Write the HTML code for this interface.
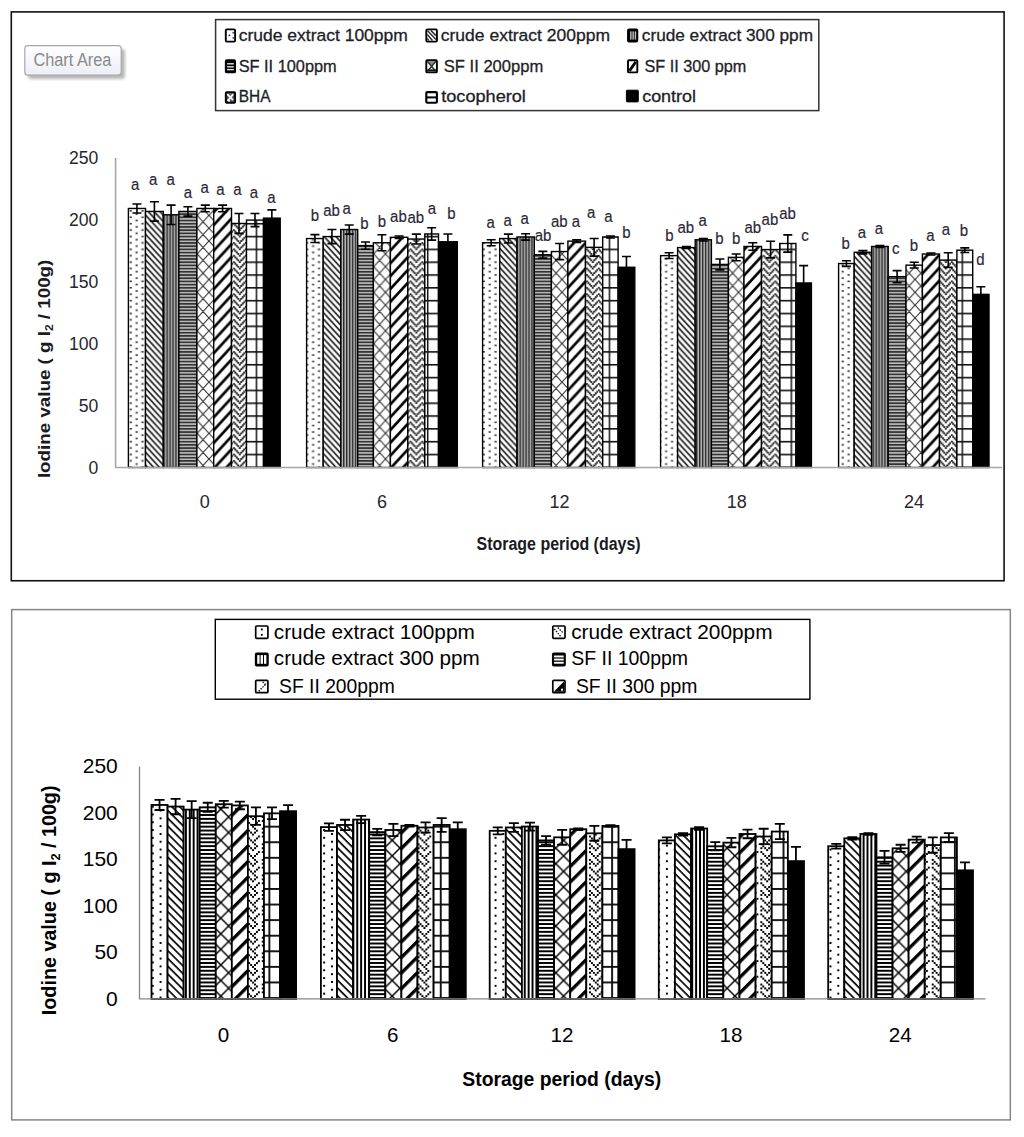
<!DOCTYPE html>
<html><head><meta charset="utf-8"><title>Iodine value chart</title>
<style>html,body{margin:0;padding:0;background:#fff;} body{width:1024px;height:1137px;position:relative;overflow:hidden;font-family:"Liberation Sans", sans-serif;}</style>
</head><body>
<svg width="1024" height="1137" viewBox="0 0 1024 1137" style="position:absolute;left:0;top:0">
<defs>
<pattern id="t1" patternUnits="userSpaceOnUse" width="8" height="8" patternTransform="translate(141.76,440.8) scale(1.471,1.6025)"><g fill="#3a3a3a"><rect x="-0.25" y="0.00" width="1.5" height="1"/><rect x="-0.25" y="4.00" width="1.5" height="1"/><rect x="3.75" y="2.00" width="1.5" height="1"/><rect x="3.75" y="6.00" width="1.5" height="1"/><rect x="7.75" y="0.00" width="1.5" height="1"/><rect x="7.75" y="4.00" width="1.5" height="1"/></g></pattern>
<pattern id="t2" patternUnits="userSpaceOnUse" width="8" height="8" patternTransform="translate(323.41,421.64) scale(1.471,1.6025)"><path d="M-9 -1L1 9M-5 -1L5 9M-1 -1L9 9M3 -1L13 9M7 -1L17 9" stroke="#222" stroke-width="1.15" fill="none" transform="translate(0.5,0.5)"/></pattern>
<pattern id="t3" patternUnits="userSpaceOnUse" width="2" height="8" patternTransform="translate(1.72,0) scale(1.471,1.6025)"><rect x="0" y="0" width="2" height="8" fill="#bcbcbc"/><rect x="0" y="0" width="1" height="8" fill="#2a2a2a"/></pattern>
<pattern id="t4" patternUnits="userSpaceOnUse" width="8" height="2" patternTransform="translate(0,1.77) scale(1.471,1.6025)"><rect x="0" y="0" width="8" height="2" fill="#bdbdbd"/><rect x="0" y="0" width="8" height="1.05" fill="#333"/></pattern>
<pattern id="t5" patternUnits="userSpaceOnUse" width="8" height="8" patternTransform="translate(373.7,407.7) scale(1.471,1.6025)"><path d="M-1 -1L9 9M9 -1L-1 9M-4 4L4 -4M4 12L12 4M-4 4L4 12M4 -4L12 4" stroke="#2e2e2e" stroke-width="0.72" fill="none"/></pattern>
<pattern id="t6" patternUnits="userSpaceOnUse" width="8" height="8" patternTransform="translate(393.11,427.02) scale(1.471,1.6025)"><path d="M-1 1L1 -1M-1 9L9 -1M7 9L9 7" stroke="#000" stroke-width="1.75" fill="none"/></pattern>
<pattern id="t7" patternUnits="userSpaceOnUse" width="8" height="4" patternTransform="translate(409.68,427.9) scale(1.471,1.6025)"><g fill="#2a2a2a"><rect x="-0.18" y="-0.15" width="1.36" height="1.3"/><rect x="3.82" y="-0.15" width="1.36" height="1.3"/><rect x="0.8200000000000001" y="0.85" width="1.36" height="1.3"/><rect x="6.82" y="0.85" width="1.36" height="1.3"/><rect x="1.82" y="1.85" width="1.36" height="1.3"/><rect x="5.82" y="1.85" width="1.36" height="1.3"/><rect x="2.82" y="2.85" width="1.36" height="1.3"/><rect x="4.82" y="2.85" width="1.36" height="1.3"/></g></pattern>
<pattern id="t8" patternUnits="userSpaceOnUse" width="8" height="8" patternTransform="translate(255.56,453.7) scale(1.471,1.6025)"><rect x="0" y="0" width="1" height="8" fill="#111"/><rect x="0" y="0" width="8" height="1" fill="#111"/></pattern>
<pattern id="t8g0" patternUnits="userSpaceOnUse" width="8" height="8" patternTransform="translate(255.66,453.7) scale(1.471,1.6025)"><rect x="0" y="0" width="1" height="8" fill="#111"/><rect x="0" y="0" width="8" height="1" fill="#111"/></pattern>
<pattern id="t8g1" patternUnits="userSpaceOnUse" width="8" height="8" patternTransform="translate(426.96,453.7) scale(1.471,1.6025)"><rect x="0" y="0" width="1" height="8" fill="#111"/><rect x="0" y="0" width="8" height="1" fill="#111"/></pattern>
<pattern id="t8g2" patternUnits="userSpaceOnUse" width="8" height="8" patternTransform="translate(608.66,453.7) scale(1.471,1.6025)"><rect x="0" y="0" width="1" height="8" fill="#111"/><rect x="0" y="0" width="8" height="1" fill="#111"/></pattern>
<pattern id="t8g3" patternUnits="userSpaceOnUse" width="8" height="8" patternTransform="translate(790.56,453.7) scale(1.471,1.6025)"><rect x="0" y="0" width="1" height="8" fill="#111"/><rect x="0" y="0" width="8" height="1" fill="#111"/></pattern>
<pattern id="t8g4" patternUnits="userSpaceOnUse" width="8" height="8" patternTransform="translate(961.56,453.7) scale(1.471,1.6025)"><rect x="0" y="0" width="1" height="8" fill="#111"/><rect x="0" y="0" width="8" height="1" fill="#111"/></pattern>
<pattern id="b1" patternUnits="userSpaceOnUse" width="15.580" height="15.580" patternTransform="translate(151.8,805.7)"><g fill="#000"><rect x="0.00" y="0.00" width="1.95" height="1.95"/><rect x="7.79" y="3.90" width="1.95" height="1.95"/><rect x="0.00" y="7.79" width="1.95" height="1.95"/><rect x="7.79" y="11.69" width="1.95" height="1.95"/></g></pattern>
<pattern id="b2" patternUnits="userSpaceOnUse" width="40" height="5.508" patternTransform="translate(170.95,952.62) rotate(45)"><rect x="0" y="0" width="40" height="1.65" fill="#000"/></pattern>
<pattern id="b3" patternUnits="userSpaceOnUse" width="3.895" height="20" patternTransform="translate(1.83,0) "><rect x="0" y="0" width="1.95" height="20" fill="#000"/></pattern>
<pattern id="b4" patternUnits="userSpaceOnUse" width="20" height="3.895" patternTransform="translate(0,-0.05) "><rect x="0" y="0" width="20" height="1.95" fill="#000"/></pattern>
<pattern id="b5" patternUnits="userSpaceOnUse" width="15.580" height="15.580" patternTransform="translate(220.8,902.6) "><path d="M-15.58 -15.58L31.16 31.16M31.16 -15.58L-15.58 31.16M-7.79 7.79L7.79 -7.79M7.79 23.37L23.37 7.79" stroke="#000" stroke-width="1.45" fill="none"/></pattern>
<pattern id="b6" patternUnits="userSpaceOnUse" width="40" height="11.017" patternTransform="translate(246.33,907.63) rotate(-45)"><rect x="0" y="0" width="40" height="3.3" fill="#000"/></pattern>
<pattern id="b7" patternUnits="userSpaceOnUse" width="15.580" height="15.580" patternTransform="translate(588.98,940.69)"><g fill="#000"><rect x="-0.00" y="-0.00" width="1.95" height="1.95"/><rect x="3.89" y="-0.00" width="1.95" height="1.95"/><rect x="7.79" y="-0.00" width="1.95" height="1.95"/><rect x="5.84" y="1.95" width="1.95" height="1.95"/><rect x="-0.00" y="3.89" width="1.95" height="1.95"/><rect x="11.68" y="3.89" width="1.95" height="1.95"/><rect x="1.95" y="5.84" width="1.95" height="1.95"/><rect x="9.74" y="5.84" width="1.95" height="1.95"/><rect x="3.89" y="7.79" width="1.95" height="1.95"/><rect x="7.79" y="7.79" width="1.95" height="1.95"/><rect x="5.84" y="9.74" width="1.95" height="1.95"/><rect x="-0.00" y="11.68" width="1.95" height="1.95"/><rect x="7.79" y="11.68" width="1.95" height="1.95"/><rect x="1.95" y="13.63" width="1.95" height="1.95"/><rect x="9.74" y="13.63" width="1.95" height="1.95"/></g></pattern>
<pattern id="b8" patternUnits="userSpaceOnUse" width="15.580" height="15.580" patternTransform="translate(3.55,-0.05) "><rect x="0" y="0" width="1.9" height="15.58" fill="#111"/><rect x="0" y="0" width="15.58" height="1.9" fill="#111"/></pattern>
<filter id="tblur" x="0" y="0" width="1024" height="600" filterUnits="userSpaceOnUse"><feConvolveMatrix order="3" kernelMatrix="1 2 1 2 4 2 1 2 1" divisor="16" edgeMode="none" preserveAlpha="false"/></filter>
<filter id="sh" x="-20%" y="-20%" width="150%" height="160%"><feGaussianBlur stdDeviation="1.5"/></filter>
<linearGradient id="tg" x1="0" y1="0" x2="0" y2="1"><stop offset="0" stop-color="#ffffff"/><stop offset="1" stop-color="#eceef6"/></linearGradient>
</defs>
<rect x="0" y="0" width="1024" height="1137" fill="#fff"/>
<rect x="11.3" y="11.9" width="992.8" height="568.85" fill="none" stroke="#111" stroke-width="1.6"/>
<rect x="28" y="49" width="97" height="30" rx="3" fill="#9a9a9a" opacity="0.7" filter="url(#sh)"/>
<rect x="24.8" y="45.6" width="96.4" height="29.6" rx="3" fill="url(#tg)" stroke="#a8a8a8" stroke-width="1.2"/>
<text x="33.4" y="66.3" font-family='"Liberation Sans", sans-serif' font-size="18" fill="#8a8a8a" textLength="78" lengthAdjust="spacingAndGlyphs">Chart Area</text>
<g>
<rect x="128.40" y="208.47" width="17.10" height="259.03" fill="#fff"/>
<rect x="128.40" y="208.47" width="17.10" height="259.03" fill="url(#t1)" stroke="#000" stroke-width="1.4"/>
<rect x="145.50" y="211.44" width="17.80" height="256.06" fill="#fff"/>
<rect x="145.50" y="211.44" width="17.80" height="256.06" fill="url(#t2)" stroke="#000" stroke-width="1.4"/>
<rect x="163.30" y="214.78" width="15.60" height="252.72" fill="#fff"/>
<rect x="163.30" y="214.78" width="15.60" height="252.72" fill="url(#t3)" stroke="#000" stroke-width="1.4"/>
<rect x="178.90" y="211.44" width="18.00" height="256.06" fill="#fff"/>
<rect x="178.90" y="211.44" width="18.00" height="256.06" fill="url(#t4)" stroke="#000" stroke-width="1.4"/>
<rect x="196.90" y="208.47" width="16.80" height="259.03" fill="#fff"/>
<rect x="196.90" y="208.47" width="16.80" height="259.03" fill="url(#t5)" stroke="#000" stroke-width="1.4"/>
<rect x="213.70" y="208.47" width="17.80" height="259.03" fill="#fff"/>
<rect x="213.70" y="208.47" width="17.80" height="259.03" fill="url(#t6)" stroke="#000" stroke-width="1.4"/>
<rect x="231.50" y="223.45" width="15.00" height="244.05" fill="#fff"/>
<rect x="231.50" y="223.45" width="15.00" height="244.05" fill="url(#t7)" stroke="#000" stroke-width="1.4"/>
<rect x="246.50" y="220.10" width="17.00" height="247.40" fill="#fff"/>
<rect x="246.50" y="220.10" width="17.00" height="247.40" fill="url(#t8g0)" stroke="#000" stroke-width="1.4"/>
<rect x="263.50" y="218.12" width="16.70" height="249.38" fill="#fff"/>
<rect x="263.50" y="218.12" width="16.70" height="249.38" fill="#000" stroke="#000" stroke-width="1.4"/>
<rect x="306.60" y="238.54" width="16.60" height="228.96" fill="#fff"/>
<rect x="306.60" y="238.54" width="16.60" height="228.96" fill="url(#t1)" stroke="#000" stroke-width="1.4"/>
<rect x="323.20" y="236.56" width="17.50" height="230.94" fill="#fff"/>
<rect x="323.20" y="236.56" width="17.50" height="230.94" fill="url(#t2)" stroke="#000" stroke-width="1.4"/>
<rect x="340.70" y="229.51" width="17.00" height="237.99" fill="#fff"/>
<rect x="340.70" y="229.51" width="17.00" height="237.99" fill="url(#t3)" stroke="#000" stroke-width="1.4"/>
<rect x="357.70" y="245.60" width="15.70" height="221.90" fill="#fff"/>
<rect x="357.70" y="245.60" width="15.70" height="221.90" fill="url(#t4)" stroke="#000" stroke-width="1.4"/>
<rect x="373.40" y="242.75" width="17.00" height="224.75" fill="#fff"/>
<rect x="373.40" y="242.75" width="17.00" height="224.75" fill="url(#t5)" stroke="#000" stroke-width="1.4"/>
<rect x="390.40" y="237.31" width="17.40" height="230.19" fill="#fff"/>
<rect x="390.40" y="237.31" width="17.40" height="230.19" fill="url(#t6)" stroke="#000" stroke-width="1.4"/>
<rect x="407.80" y="239.04" width="17.00" height="228.46" fill="#fff"/>
<rect x="407.80" y="239.04" width="17.00" height="228.46" fill="url(#t7)" stroke="#000" stroke-width="1.4"/>
<rect x="424.80" y="233.96" width="13.70" height="233.54" fill="#fff"/>
<rect x="424.80" y="233.96" width="13.70" height="233.54" fill="url(#t8g1)" stroke="#000" stroke-width="1.4"/>
<rect x="438.50" y="241.76" width="18.80" height="225.74" fill="#fff"/>
<rect x="438.50" y="241.76" width="18.80" height="225.74" fill="#000" stroke="#000" stroke-width="1.4"/>
<rect x="482.60" y="242.75" width="17.10" height="224.75" fill="#fff"/>
<rect x="482.60" y="242.75" width="17.10" height="224.75" fill="url(#t1)" stroke="#000" stroke-width="1.4"/>
<rect x="499.70" y="238.54" width="17.30" height="228.96" fill="#fff"/>
<rect x="499.70" y="238.54" width="17.30" height="228.96" fill="url(#t2)" stroke="#000" stroke-width="1.4"/>
<rect x="517.00" y="236.94" width="17.30" height="230.56" fill="#fff"/>
<rect x="517.00" y="236.94" width="17.30" height="230.56" fill="url(#t3)" stroke="#000" stroke-width="1.4"/>
<rect x="534.30" y="254.76" width="17.10" height="212.74" fill="#fff"/>
<rect x="534.30" y="254.76" width="17.10" height="212.74" fill="url(#t4)" stroke="#000" stroke-width="1.4"/>
<rect x="551.40" y="251.54" width="16.50" height="215.96" fill="#fff"/>
<rect x="551.40" y="251.54" width="16.50" height="215.96" fill="url(#t5)" stroke="#000" stroke-width="1.4"/>
<rect x="567.90" y="241.14" width="17.60" height="226.36" fill="#fff"/>
<rect x="567.90" y="241.14" width="17.60" height="226.36" fill="url(#t6)" stroke="#000" stroke-width="1.4"/>
<rect x="585.50" y="247.33" width="17.20" height="220.17" fill="#fff"/>
<rect x="585.50" y="247.33" width="17.20" height="220.17" fill="url(#t7)" stroke="#000" stroke-width="1.4"/>
<rect x="602.70" y="236.94" width="15.40" height="230.56" fill="#fff"/>
<rect x="602.70" y="236.94" width="15.40" height="230.56" fill="url(#t8g2)" stroke="#000" stroke-width="1.4"/>
<rect x="618.10" y="267.26" width="16.70" height="200.24" fill="#fff"/>
<rect x="618.10" y="267.26" width="16.70" height="200.24" fill="#000" stroke="#000" stroke-width="1.4"/>
<rect x="660.60" y="255.62" width="17.00" height="211.88" fill="#fff"/>
<rect x="660.60" y="255.62" width="17.00" height="211.88" fill="url(#t1)" stroke="#000" stroke-width="1.4"/>
<rect x="677.60" y="247.58" width="17.60" height="219.92" fill="#fff"/>
<rect x="677.60" y="247.58" width="17.60" height="219.92" fill="url(#t2)" stroke="#000" stroke-width="1.4"/>
<rect x="695.20" y="239.78" width="16.20" height="227.72" fill="#fff"/>
<rect x="695.20" y="239.78" width="16.20" height="227.72" fill="url(#t3)" stroke="#000" stroke-width="1.4"/>
<rect x="711.40" y="264.41" width="17.00" height="203.09" fill="#fff"/>
<rect x="711.40" y="264.41" width="17.00" height="203.09" fill="url(#t4)" stroke="#000" stroke-width="1.4"/>
<rect x="728.40" y="257.36" width="15.60" height="210.14" fill="#fff"/>
<rect x="728.40" y="257.36" width="15.60" height="210.14" fill="url(#t5)" stroke="#000" stroke-width="1.4"/>
<rect x="744.00" y="246.46" width="17.50" height="221.04" fill="#fff"/>
<rect x="744.00" y="246.46" width="17.50" height="221.04" fill="url(#t6)" stroke="#000" stroke-width="1.4"/>
<rect x="761.50" y="249.56" width="18.20" height="217.94" fill="#fff"/>
<rect x="761.50" y="249.56" width="18.20" height="217.94" fill="url(#t7)" stroke="#000" stroke-width="1.4"/>
<rect x="779.70" y="243.49" width="16.20" height="224.01" fill="#fff"/>
<rect x="779.70" y="243.49" width="16.20" height="224.01" fill="url(#t8g3)" stroke="#000" stroke-width="1.4"/>
<rect x="795.90" y="282.97" width="15.50" height="184.53" fill="#fff"/>
<rect x="795.90" y="282.97" width="15.50" height="184.53" fill="#000" stroke="#000" stroke-width="1.4"/>
<rect x="838.60" y="263.54" width="15.60" height="203.96" fill="#fff"/>
<rect x="838.60" y="263.54" width="15.60" height="203.96" fill="url(#t1)" stroke="#000" stroke-width="1.4"/>
<rect x="854.20" y="252.28" width="17.40" height="215.22" fill="#fff"/>
<rect x="854.20" y="252.28" width="17.40" height="215.22" fill="url(#t2)" stroke="#000" stroke-width="1.4"/>
<rect x="871.60" y="246.46" width="16.60" height="221.04" fill="#fff"/>
<rect x="871.60" y="246.46" width="16.60" height="221.04" fill="url(#t3)" stroke="#000" stroke-width="1.4"/>
<rect x="888.20" y="276.66" width="17.80" height="190.84" fill="#fff"/>
<rect x="888.20" y="276.66" width="17.80" height="190.84" fill="url(#t4)" stroke="#000" stroke-width="1.4"/>
<rect x="906.00" y="265.15" width="16.40" height="202.35" fill="#fff"/>
<rect x="906.00" y="265.15" width="16.40" height="202.35" fill="url(#t5)" stroke="#000" stroke-width="1.4"/>
<rect x="922.40" y="254.01" width="17.10" height="213.49" fill="#fff"/>
<rect x="922.40" y="254.01" width="17.10" height="213.49" fill="url(#t6)" stroke="#000" stroke-width="1.4"/>
<rect x="939.50" y="260.08" width="17.40" height="207.42" fill="#fff"/>
<rect x="939.50" y="260.08" width="17.40" height="207.42" fill="url(#t7)" stroke="#000" stroke-width="1.4"/>
<rect x="956.90" y="250.18" width="15.80" height="217.32" fill="#fff"/>
<rect x="956.90" y="250.18" width="15.80" height="217.32" fill="url(#t8g4)" stroke="#000" stroke-width="1.4"/>
<rect x="972.70" y="294.36" width="16.30" height="173.14" fill="#fff"/>
<rect x="972.70" y="294.36" width="16.30" height="173.14" fill="#000" stroke="#000" stroke-width="1.4"/>
<path d="M136.95 204.01V212.93M132.45 204.01H141.45M132.45 212.93H141.45" stroke="#000" stroke-width="1.6" fill="none"/>
<path d="M154.40 201.79V221.09M149.90 201.79H158.90M149.90 221.09H158.90" stroke="#000" stroke-width="1.6" fill="none"/>
<path d="M171.10 205.13V224.44M166.60 205.13H175.60M166.60 224.44H175.60" stroke="#000" stroke-width="1.6" fill="none"/>
<path d="M187.90 206.74V216.14M183.40 206.74H192.40M183.40 216.14H192.40" stroke="#000" stroke-width="1.6" fill="none"/>
<path d="M205.30 205.13V211.81M200.80 205.13H209.80M200.80 211.81H209.80" stroke="#000" stroke-width="1.6" fill="none"/>
<path d="M222.60 205.13V211.81M218.10 205.13H227.10M218.10 211.81H227.10" stroke="#000" stroke-width="1.6" fill="none"/>
<path d="M239.00 213.54V233.35M234.50 213.54H243.50M234.50 233.35H243.50" stroke="#000" stroke-width="1.6" fill="none"/>
<path d="M255.00 213.54V226.66M250.50 213.54H259.50M250.50 226.66H259.50" stroke="#000" stroke-width="1.6" fill="none"/>
<path d="M271.85 209.83V226.42M267.35 209.83H276.35M267.35 226.42H276.35" stroke="#000" stroke-width="1.6" fill="none"/>
<path d="M314.90 234.58V242.50M310.40 234.58H319.40M310.40 242.50H319.40" stroke="#000" stroke-width="1.6" fill="none"/>
<path d="M331.95 229.51V243.62M327.45 229.51H336.45M327.45 243.62H336.45" stroke="#000" stroke-width="1.6" fill="none"/>
<path d="M349.20 224.93V234.09M344.70 224.93H353.70M344.70 234.09H353.70" stroke="#000" stroke-width="1.6" fill="none"/>
<path d="M365.55 242.01V249.19M361.05 242.01H370.05M361.05 249.19H370.05" stroke="#000" stroke-width="1.6" fill="none"/>
<path d="M381.90 234.71V250.80M377.40 234.71H386.40M377.40 250.80H386.40" stroke="#000" stroke-width="1.6" fill="none"/>
<path d="M399.10 236.07V238.54M394.60 236.07H403.60M394.60 238.54H403.60" stroke="#000" stroke-width="1.6" fill="none"/>
<path d="M416.30 234.09V243.99M411.80 234.09H420.80M411.80 243.99H420.80" stroke="#000" stroke-width="1.6" fill="none"/>
<path d="M431.65 227.78V240.15M427.15 227.78H436.15M427.15 240.15H436.15" stroke="#000" stroke-width="1.6" fill="none"/>
<path d="M447.90 233.96V249.56M443.40 233.96H452.40M443.40 249.56H452.40" stroke="#000" stroke-width="1.6" fill="none"/>
<path d="M491.15 239.78V245.72M486.65 239.78H495.65M486.65 245.72H495.65" stroke="#000" stroke-width="1.6" fill="none"/>
<path d="M508.35 234.09V243.00M503.85 234.09H512.85M503.85 243.00H512.85" stroke="#000" stroke-width="1.6" fill="none"/>
<path d="M525.65 233.72V240.15M521.15 233.72H530.15M521.15 240.15H530.15" stroke="#000" stroke-width="1.6" fill="none"/>
<path d="M542.85 251.42V258.10M538.35 251.42H547.35M538.35 258.10H547.35" stroke="#000" stroke-width="1.6" fill="none"/>
<path d="M559.65 243.49V259.58M555.15 243.49H564.15M555.15 259.58H564.15" stroke="#000" stroke-width="1.6" fill="none"/>
<path d="M576.70 239.91V242.38M572.20 239.91H581.20M572.20 242.38H581.20" stroke="#000" stroke-width="1.6" fill="none"/>
<path d="M594.10 238.54V256.12M589.60 238.54H598.60M589.60 256.12H598.60" stroke="#000" stroke-width="1.6" fill="none"/>
<path d="M610.40 235.95V237.93M605.90 235.95H614.90M605.90 237.93H614.90" stroke="#000" stroke-width="1.6" fill="none"/>
<path d="M626.45 256.49V278.02M621.95 256.49H630.95M621.95 278.02H630.95" stroke="#000" stroke-width="1.6" fill="none"/>
<path d="M669.10 252.78V258.47M664.60 252.78H673.60M664.60 258.47H673.60" stroke="#000" stroke-width="1.6" fill="none"/>
<path d="M686.40 246.59V248.57M681.90 246.59H690.90M681.90 248.57H690.90" stroke="#000" stroke-width="1.6" fill="none"/>
<path d="M703.30 238.54V241.02M698.80 238.54H707.80M698.80 241.02H707.80" stroke="#000" stroke-width="1.6" fill="none"/>
<path d="M719.90 258.96V269.86M715.40 258.96H724.40M715.40 269.86H724.40" stroke="#000" stroke-width="1.6" fill="none"/>
<path d="M736.20 254.01V260.70M731.70 254.01H740.70M731.70 260.70H740.70" stroke="#000" stroke-width="1.6" fill="none"/>
<path d="M752.75 242.75V250.18M748.25 242.75H757.25M748.25 250.18H757.25" stroke="#000" stroke-width="1.6" fill="none"/>
<path d="M770.60 241.27V257.85M766.10 241.27H775.10M766.10 257.85H775.10" stroke="#000" stroke-width="1.6" fill="none"/>
<path d="M787.80 234.83V252.16M783.30 234.83H792.30M783.30 252.16H792.30" stroke="#000" stroke-width="1.6" fill="none"/>
<path d="M803.65 265.65V300.30M799.15 265.65H808.15M799.15 300.30H808.15" stroke="#000" stroke-width="1.6" fill="none"/>
<path d="M846.40 260.70V266.39M841.90 260.70H850.90M841.90 266.39H850.90" stroke="#000" stroke-width="1.6" fill="none"/>
<path d="M862.90 250.67V253.89M858.40 250.67H867.40M858.40 253.89H867.40" stroke="#000" stroke-width="1.6" fill="none"/>
<path d="M879.90 245.47V247.45M875.40 245.47H884.40M875.40 247.45H884.40" stroke="#000" stroke-width="1.6" fill="none"/>
<path d="M897.10 270.60V282.73M892.60 270.60H901.60M892.60 282.73H901.60" stroke="#000" stroke-width="1.6" fill="none"/>
<path d="M914.20 262.31V268.00M909.70 262.31H918.70M909.70 268.00H918.70" stroke="#000" stroke-width="1.6" fill="none"/>
<path d="M930.95 253.02V255.00M926.45 253.02H935.45M926.45 255.00H935.45" stroke="#000" stroke-width="1.6" fill="none"/>
<path d="M948.20 252.78V267.38M943.70 252.78H952.70M943.70 267.38H952.70" stroke="#000" stroke-width="1.6" fill="none"/>
<path d="M964.80 247.83V252.53M960.30 247.83H969.30M960.30 252.53H969.30" stroke="#000" stroke-width="1.6" fill="none"/>
<path d="M980.85 286.69V302.03M976.35 286.69H985.35M976.35 302.03H985.35" stroke="#000" stroke-width="1.6" fill="none"/>
<path d="M115.60 158.10V467.50H1002.00" stroke="#a6a6a6" stroke-width="1.6" fill="none"/>
</g>
<text x="98.3" y="473.7" text-anchor="end" font-family='"Liberation Sans", sans-serif' font-size="17.6" fill="#262630">0</text>
<text x="98.3" y="411.8" text-anchor="end" font-family='"Liberation Sans", sans-serif' font-size="17.6" fill="#262630">50</text>
<text x="98.3" y="349.9" text-anchor="end" font-family='"Liberation Sans", sans-serif' font-size="17.6" fill="#262630">100</text>
<text x="98.3" y="288.1" text-anchor="end" font-family='"Liberation Sans", sans-serif' font-size="17.6" fill="#262630">150</text>
<text x="98.3" y="226.2" text-anchor="end" font-family='"Liberation Sans", sans-serif' font-size="17.6" fill="#262630">200</text>
<text x="98.3" y="164.3" text-anchor="end" font-family='"Liberation Sans", sans-serif' font-size="17.6" fill="#262630">250</text>
<text x="204.8" y="508" text-anchor="middle" font-family='"Liberation Sans", sans-serif' font-size="18" fill="#262630">0</text>
<text x="382.1" y="508" text-anchor="middle" font-family='"Liberation Sans", sans-serif' font-size="18" fill="#262630">6</text>
<text x="559.4" y="508" text-anchor="middle" font-family='"Liberation Sans", sans-serif' font-size="18" fill="#262630">12</text>
<text x="736.7" y="508" text-anchor="middle" font-family='"Liberation Sans", sans-serif' font-size="18" fill="#262630">18</text>
<text x="914.0" y="508" text-anchor="middle" font-family='"Liberation Sans", sans-serif' font-size="18" fill="#262630">24</text>
<text transform="translate(135.2,190.0) scale(0.86,1)" text-anchor="middle" font-family='"Liberation Sans", sans-serif' font-size="17.4" fill="#2a2838" stroke="#2a2838" stroke-width="0.2">a</text>
<text transform="translate(153.1,185.3) scale(0.86,1)" text-anchor="middle" font-family='"Liberation Sans", sans-serif' font-size="17.4" fill="#2a2838" stroke="#2a2838" stroke-width="0.2">a</text>
<text transform="translate(170.7,185.3) scale(0.86,1)" text-anchor="middle" font-family='"Liberation Sans", sans-serif' font-size="17.4" fill="#2a2838" stroke="#2a2838" stroke-width="0.2">a</text>
<text transform="translate(187.9,197.8) scale(0.86,1)" text-anchor="middle" font-family='"Liberation Sans", sans-serif' font-size="17.4" fill="#2a2838" stroke="#2a2838" stroke-width="0.2">a</text>
<text transform="translate(204.7,193.1) scale(0.86,1)" text-anchor="middle" font-family='"Liberation Sans", sans-serif' font-size="17.4" fill="#2a2838" stroke="#2a2838" stroke-width="0.2">a</text>
<text transform="translate(220.5,194.9) scale(0.86,1)" text-anchor="middle" font-family='"Liberation Sans", sans-serif' font-size="17.4" fill="#2a2838" stroke="#2a2838" stroke-width="0.2">a</text>
<text transform="translate(237.4,194.9) scale(0.86,1)" text-anchor="middle" font-family='"Liberation Sans", sans-serif' font-size="17.4" fill="#2a2838" stroke="#2a2838" stroke-width="0.2">a</text>
<text transform="translate(253.9,197.9) scale(0.86,1)" text-anchor="middle" font-family='"Liberation Sans", sans-serif' font-size="17.4" fill="#2a2838" stroke="#2a2838" stroke-width="0.2">a</text>
<text transform="translate(271.3,202.8) scale(0.86,1)" text-anchor="middle" font-family='"Liberation Sans", sans-serif' font-size="17.4" fill="#2a2838" stroke="#2a2838" stroke-width="0.2">a</text>
<text transform="translate(314.8,220.6) scale(0.86,1)" text-anchor="middle" font-family='"Liberation Sans", sans-serif' font-size="17.4" fill="#2a2838" stroke="#2a2838" stroke-width="0.2">b</text>
<text transform="translate(331.5,215.8) scale(0.86,1)" text-anchor="middle" font-family='"Liberation Sans", sans-serif' font-size="17.4" fill="#2a2838" stroke="#2a2838" stroke-width="0.2">ab</text>
<text transform="translate(346.7,214.4) scale(0.86,1)" text-anchor="middle" font-family='"Liberation Sans", sans-serif' font-size="17.4" fill="#2a2838" stroke="#2a2838" stroke-width="0.2">a</text>
<text transform="translate(364.5,228.9) scale(0.86,1)" text-anchor="middle" font-family='"Liberation Sans", sans-serif' font-size="17.4" fill="#2a2838" stroke="#2a2838" stroke-width="0.2">b</text>
<text transform="translate(381.9,226.7) scale(0.86,1)" text-anchor="middle" font-family='"Liberation Sans", sans-serif' font-size="17.4" fill="#2a2838" stroke="#2a2838" stroke-width="0.2">b</text>
<text transform="translate(398.4,221.9) scale(0.86,1)" text-anchor="middle" font-family='"Liberation Sans", sans-serif' font-size="17.4" fill="#2a2838" stroke="#2a2838" stroke-width="0.2">ab</text>
<text transform="translate(415.8,223.2) scale(0.86,1)" text-anchor="middle" font-family='"Liberation Sans", sans-serif' font-size="17.4" fill="#2a2838" stroke="#2a2838" stroke-width="0.2">ab</text>
<text transform="translate(432.0,213.6) scale(0.86,1)" text-anchor="middle" font-family='"Liberation Sans", sans-serif' font-size="17.4" fill="#2a2838" stroke="#2a2838" stroke-width="0.2">a</text>
<text transform="translate(451.5,218.6) scale(0.86,1)" text-anchor="middle" font-family='"Liberation Sans", sans-serif' font-size="17.4" fill="#2a2838" stroke="#2a2838" stroke-width="0.2">b</text>
<text transform="translate(490.7,228.4) scale(0.86,1)" text-anchor="middle" font-family='"Liberation Sans", sans-serif' font-size="17.4" fill="#2a2838" stroke="#2a2838" stroke-width="0.2">a</text>
<text transform="translate(507.7,225.8) scale(0.86,1)" text-anchor="middle" font-family='"Liberation Sans", sans-serif' font-size="17.4" fill="#2a2838" stroke="#2a2838" stroke-width="0.2">a</text>
<text transform="translate(524.6,223.6) scale(0.86,1)" text-anchor="middle" font-family='"Liberation Sans", sans-serif' font-size="17.4" fill="#2a2838" stroke="#2a2838" stroke-width="0.2">a</text>
<text transform="translate(543.0,241.1) scale(0.86,1)" text-anchor="middle" font-family='"Liberation Sans", sans-serif' font-size="17.4" fill="#2a2838" stroke="#2a2838" stroke-width="0.2">ab</text>
<text transform="translate(559.3,226.6) scale(0.86,1)" text-anchor="middle" font-family='"Liberation Sans", sans-serif' font-size="17.4" fill="#2a2838" stroke="#2a2838" stroke-width="0.2">ab</text>
<text transform="translate(575.8,226.7) scale(0.86,1)" text-anchor="middle" font-family='"Liberation Sans", sans-serif' font-size="17.4" fill="#2a2838" stroke="#2a2838" stroke-width="0.2">a</text>
<text transform="translate(591.2,217.5) scale(0.86,1)" text-anchor="middle" font-family='"Liberation Sans", sans-serif' font-size="17.4" fill="#2a2838" stroke="#2a2838" stroke-width="0.2">a</text>
<text transform="translate(608.5,221.9) scale(0.86,1)" text-anchor="middle" font-family='"Liberation Sans", sans-serif' font-size="17.4" fill="#2a2838" stroke="#2a2838" stroke-width="0.2">a</text>
<text transform="translate(626.5,238.2) scale(0.86,1)" text-anchor="middle" font-family='"Liberation Sans", sans-serif' font-size="17.4" fill="#2a2838" stroke="#2a2838" stroke-width="0.2">b</text>
<text transform="translate(669.4,241.1) scale(0.86,1)" text-anchor="middle" font-family='"Liberation Sans", sans-serif' font-size="17.4" fill="#2a2838" stroke="#2a2838" stroke-width="0.2">b</text>
<text transform="translate(685.7,233.4) scale(0.86,1)" text-anchor="middle" font-family='"Liberation Sans", sans-serif' font-size="17.4" fill="#2a2838" stroke="#2a2838" stroke-width="0.2">ab</text>
<text transform="translate(702.6,225.5) scale(0.86,1)" text-anchor="middle" font-family='"Liberation Sans", sans-serif' font-size="17.4" fill="#2a2838" stroke="#2a2838" stroke-width="0.2">a</text>
<text transform="translate(719.3,244.2) scale(0.86,1)" text-anchor="middle" font-family='"Liberation Sans", sans-serif' font-size="17.4" fill="#2a2838" stroke="#2a2838" stroke-width="0.2">b</text>
<text transform="translate(736.2,244.2) scale(0.86,1)" text-anchor="middle" font-family='"Liberation Sans", sans-serif' font-size="17.4" fill="#2a2838" stroke="#2a2838" stroke-width="0.2">b</text>
<text transform="translate(752.8,233.3) scale(0.86,1)" text-anchor="middle" font-family='"Liberation Sans", sans-serif' font-size="17.4" fill="#2a2838" stroke="#2a2838" stroke-width="0.2">ab</text>
<text transform="translate(769.9,225.4) scale(0.86,1)" text-anchor="middle" font-family='"Liberation Sans", sans-serif' font-size="17.4" fill="#2a2838" stroke="#2a2838" stroke-width="0.2">ab</text>
<text transform="translate(787.5,218.6) scale(0.86,1)" text-anchor="middle" font-family='"Liberation Sans", sans-serif' font-size="17.4" fill="#2a2838" stroke="#2a2838" stroke-width="0.2">ab</text>
<text transform="translate(804.9,241.2) scale(0.86,1)" text-anchor="middle" font-family='"Liberation Sans", sans-serif' font-size="17.4" fill="#2a2838" stroke="#2a2838" stroke-width="0.2">c</text>
<text transform="translate(845.7,249.3) scale(0.86,1)" text-anchor="middle" font-family='"Liberation Sans", sans-serif' font-size="17.4" fill="#2a2838" stroke="#2a2838" stroke-width="0.2">b</text>
<text transform="translate(862.0,238.4) scale(0.86,1)" text-anchor="middle" font-family='"Liberation Sans", sans-serif' font-size="17.4" fill="#2a2838" stroke="#2a2838" stroke-width="0.2">a</text>
<text transform="translate(878.9,233.7) scale(0.86,1)" text-anchor="middle" font-family='"Liberation Sans", sans-serif' font-size="17.4" fill="#2a2838" stroke="#2a2838" stroke-width="0.2">a</text>
<text transform="translate(895.8,254.4) scale(0.86,1)" text-anchor="middle" font-family='"Liberation Sans", sans-serif' font-size="17.4" fill="#2a2838" stroke="#2a2838" stroke-width="0.2">c</text>
<text transform="translate(913.8,250.9) scale(0.86,1)" text-anchor="middle" font-family='"Liberation Sans", sans-serif' font-size="17.4" fill="#2a2838" stroke="#2a2838" stroke-width="0.2">b</text>
<text transform="translate(930.4,241.2) scale(0.86,1)" text-anchor="middle" font-family='"Liberation Sans", sans-serif' font-size="17.4" fill="#2a2838" stroke="#2a2838" stroke-width="0.2">a</text>
<text transform="translate(945.9,235.0) scale(0.86,1)" text-anchor="middle" font-family='"Liberation Sans", sans-serif' font-size="17.4" fill="#2a2838" stroke="#2a2838" stroke-width="0.2">a</text>
<text transform="translate(963.8,236.4) scale(0.86,1)" text-anchor="middle" font-family='"Liberation Sans", sans-serif' font-size="17.4" fill="#2a2838" stroke="#2a2838" stroke-width="0.2">b</text>
<text transform="translate(980.5,264.9) scale(0.86,1)" text-anchor="middle" font-family='"Liberation Sans", sans-serif' font-size="17.4" fill="#2a2838" stroke="#2a2838" stroke-width="0.2">d</text>
<text x="476.6" y="549.7" font-family='"Liberation Sans", sans-serif' font-weight="bold" font-size="17.5" fill="#1a1a22" textLength="164" lengthAdjust="spacingAndGlyphs">Storage period (days)</text>
<g transform="translate(50.2,478.1) rotate(-90)"><text x="0" y="0" font-family='"Liberation Sans", sans-serif' font-weight="bold" font-size="17.3" fill="#1a1a22" textLength="218.4" lengthAdjust="spacingAndGlyphs">Iodine value ( g I<tspan font-size="11" dy="3">2</tspan><tspan dy="-3"> / 100g)</tspan></text></g>
<rect x="215.6" y="19.6" width="603.2" height="91" fill="#fff" stroke="#333" stroke-width="1.5"/>
<rect x="225.8" y="29.4" width="9.3" height="12.2" rx="1" fill="#fff" stroke="#000" stroke-width="1.9"/><rect x="228.6" y="34.6" width="1.6" height="1.6" fill="#222"/><rect x="232.5" y="31.9" width="1.4" height="1.6" fill="#333"/><rect x="232.5" y="37.1" width="1.4" height="1.6" fill="#333"/>
<text x="238.7" y="41.2" font-family='"Liberation Sans", sans-serif' font-size="16.8" fill="#1e1e28" stroke="#1e1e28" stroke-width="0.3" textLength="169.2" lengthAdjust="spacingAndGlyphs">crude extract 100ppm</text>
<rect x="426.3" y="29.4" width="10.6" height="12.2" rx="1" fill="#fff" stroke="#000" stroke-width="1.9"/><path d="M427.3 30.4L435.9 39.6M430.8 30.4L435.9 35.6M427.3 34.4L432.4 40.6M427.3 38.4L428.9 40.6" stroke="#333" stroke-width="1.5"/>
<text x="440.8" y="41.2" font-family='"Liberation Sans", sans-serif' font-size="16.8" fill="#1e1e28" stroke="#1e1e28" stroke-width="0.3" textLength="169.2" lengthAdjust="spacingAndGlyphs">crude extract 200ppm</text>
<rect x="628.0" y="29.4" width="9.3" height="12.2" rx="1" fill="#000" stroke="#000" stroke-width="1.9"/><rect x="630.1" y="31.4" width="1.5" height="8.2" fill="#bbb"/><rect x="632.4" y="31.4" width="1.5" height="8.2" fill="#bbb"/><rect x="634.7" y="31.4" width="1.5" height="8.2" fill="#bbb"/>
<text x="641.8" y="41.2" font-family='"Liberation Sans", sans-serif' font-size="16.8" fill="#1e1e28" stroke="#1e1e28" stroke-width="0.3" textLength="171.2" lengthAdjust="spacingAndGlyphs">crude extract 300 ppm</text>
<rect x="225.8" y="60.2" width="9.3" height="12.2" rx="1" fill="#000" stroke="#000" stroke-width="1.9"/><rect x="227.1" y="63.1" width="6.7" height="1.4" fill="#ddd"/><rect x="227.1" y="66.1" width="6.7" height="1.4" fill="#ddd"/><rect x="227.1" y="68.9" width="6.7" height="1.4" fill="#ddd"/>
<text x="238.7" y="71.6" font-family='"Liberation Sans", sans-serif' font-size="16.8" fill="#1e1e28" stroke="#1e1e28" stroke-width="0.3" textLength="98.0" lengthAdjust="spacingAndGlyphs">SF II 100ppm</text>
<rect x="426.3" y="60.2" width="10.6" height="12.2" rx="1" fill="#fff" stroke="#000" stroke-width="1.9"/><path d="M427.3 61.2L435.9 61.2L431.6 66.3Z" fill="#888"/><path d="M427.3 61.2L435.9 71.4M435.9 61.2L427.3 71.4" stroke="#333" stroke-width="1.5"/><path d="M427.3 71.4L435.9 71.4L435.9 69.4L427.3 69.4Z" fill="#111"/>
<text x="443.8" y="71.6" font-family='"Liberation Sans", sans-serif' font-size="16.8" fill="#1e1e28" stroke="#1e1e28" stroke-width="0.3" textLength="99.5" lengthAdjust="spacingAndGlyphs">SF II 200ppm</text>
<rect x="628.0" y="60.2" width="9.3" height="12.2" rx="1" fill="#fff" stroke="#000" stroke-width="1.9"/><path d="M629.5 70.9L635.8 61.7" stroke="#000" stroke-width="2.8"/>
<text x="644.4" y="71.6" font-family='"Liberation Sans", sans-serif' font-size="16.8" fill="#1e1e28" stroke="#1e1e28" stroke-width="0.3" textLength="102.0" lengthAdjust="spacingAndGlyphs">SF II 300 ppm</text>
<rect x="225.8" y="92.1" width="9.3" height="10.6" rx="1" fill="#555" stroke="#000" stroke-width="1.9"/><path d="M227.3 94.1L233.1 100.2M233.1 94.1L228.3 100.2M227.3 99.7L229.8 101.2" stroke="#f4f4f4" stroke-width="1.8"/>
<text x="238.7" y="102.0" font-family='"Liberation Sans", sans-serif' font-size="16.8" fill="#1e1e28" stroke="#1e1e28" stroke-width="0.3" textLength="31.8" lengthAdjust="spacingAndGlyphs">BHA</text>
<rect x="426.3" y="92.1" width="10.6" height="10.6" rx="1" fill="#fff" stroke="#000" stroke-width="2.1"/><rect x="426.3" y="96.4" width="10.6" height="2" fill="#000"/>
<text x="441.2" y="102.0" font-family='"Liberation Sans", sans-serif' font-size="16.8" fill="#1e1e28" stroke="#1e1e28" stroke-width="0.3" textLength="84.7" lengthAdjust="spacingAndGlyphs">tocopherol</text>
<rect x="626.4" y="90.2" width="11.9" height="11.7" rx="0.8" fill="#000" stroke="#000" stroke-width="1"/>
<text x="642.2" y="102.0" font-family='"Liberation Sans", sans-serif' font-size="16.8" fill="#1e1e28" stroke="#1e1e28" stroke-width="0.3" textLength="53.8" lengthAdjust="spacingAndGlyphs">control</text>
<rect x="11.7" y="609.6" width="998.6" height="510.3" fill="none" stroke="#858585" stroke-width="1.5"/>
<rect x="151.50" y="804.96" width="16.07" height="193.94" fill="#fff"/>
<rect x="151.50" y="804.96" width="16.07" height="193.94" fill="url(#b1)" stroke="#000" stroke-width="1.8"/>
<rect x="167.57" y="806.55" width="16.07" height="192.35" fill="#fff"/>
<rect x="167.57" y="806.55" width="16.07" height="192.35" fill="url(#b2)" stroke="#000" stroke-width="1.8"/>
<rect x="183.63" y="809.61" width="16.07" height="189.29" fill="#fff"/>
<rect x="183.63" y="809.61" width="16.07" height="189.29" fill="url(#b3)" stroke="#000" stroke-width="1.8"/>
<rect x="199.70" y="807.29" width="16.07" height="191.61" fill="#fff"/>
<rect x="199.70" y="807.29" width="16.07" height="191.61" fill="url(#b4)" stroke="#000" stroke-width="1.8"/>
<rect x="215.77" y="804.22" width="16.07" height="194.68" fill="#fff"/>
<rect x="215.77" y="804.22" width="16.07" height="194.68" fill="url(#b5)" stroke="#000" stroke-width="1.8"/>
<rect x="231.83" y="805.43" width="16.07" height="193.47" fill="#fff"/>
<rect x="231.83" y="805.43" width="16.07" height="193.47" fill="url(#b6)" stroke="#000" stroke-width="1.8"/>
<rect x="247.90" y="816.21" width="16.07" height="182.69" fill="#fff"/>
<rect x="247.90" y="816.21" width="16.07" height="182.69" fill="url(#b7)" stroke="#000" stroke-width="1.8"/>
<rect x="263.97" y="813.33" width="16.07" height="185.57" fill="#fff"/>
<rect x="263.97" y="813.33" width="16.07" height="185.57" fill="url(#b8)" stroke="#000" stroke-width="1.8"/>
<rect x="280.03" y="811.19" width="16.07" height="187.71" fill="#fff"/>
<rect x="280.03" y="811.19" width="16.07" height="187.71" fill="#000" stroke="#000" stroke-width="1.8"/>
<rect x="320.90" y="827.09" width="16.10" height="171.81" fill="#fff"/>
<rect x="320.90" y="827.09" width="16.10" height="171.81" fill="url(#b1)" stroke="#000" stroke-width="1.8"/>
<rect x="337.00" y="824.95" width="16.10" height="173.95" fill="#fff"/>
<rect x="337.00" y="824.95" width="16.10" height="173.95" fill="url(#b2)" stroke="#000" stroke-width="1.8"/>
<rect x="353.10" y="819.56" width="16.10" height="179.34" fill="#fff"/>
<rect x="353.10" y="819.56" width="16.10" height="179.34" fill="url(#b3)" stroke="#000" stroke-width="1.8"/>
<rect x="369.20" y="832.11" width="16.10" height="166.79" fill="#fff"/>
<rect x="369.20" y="832.11" width="16.10" height="166.79" fill="url(#b4)" stroke="#000" stroke-width="1.8"/>
<rect x="385.30" y="829.97" width="16.10" height="168.93" fill="#fff"/>
<rect x="385.30" y="829.97" width="16.10" height="168.93" fill="url(#b5)" stroke="#000" stroke-width="1.8"/>
<rect x="401.40" y="825.79" width="16.10" height="173.11" fill="#fff"/>
<rect x="401.40" y="825.79" width="16.10" height="173.11" fill="url(#b6)" stroke="#000" stroke-width="1.8"/>
<rect x="417.50" y="827.46" width="16.10" height="171.44" fill="#fff"/>
<rect x="417.50" y="827.46" width="16.10" height="171.44" fill="url(#b7)" stroke="#000" stroke-width="1.8"/>
<rect x="433.60" y="824.95" width="16.10" height="173.95" fill="#fff"/>
<rect x="433.60" y="824.95" width="16.10" height="173.95" fill="url(#b8)" stroke="#000" stroke-width="1.8"/>
<rect x="449.70" y="829.23" width="16.10" height="169.67" fill="#fff"/>
<rect x="449.70" y="829.23" width="16.10" height="169.67" fill="#000" stroke="#000" stroke-width="1.8"/>
<rect x="489.70" y="830.81" width="16.10" height="168.09" fill="#fff"/>
<rect x="489.70" y="830.81" width="16.10" height="168.09" fill="url(#b1)" stroke="#000" stroke-width="1.8"/>
<rect x="505.80" y="827.46" width="16.10" height="171.44" fill="#fff"/>
<rect x="505.80" y="827.46" width="16.10" height="171.44" fill="url(#b2)" stroke="#000" stroke-width="1.8"/>
<rect x="521.90" y="826.53" width="16.10" height="172.37" fill="#fff"/>
<rect x="521.90" y="826.53" width="16.10" height="172.37" fill="url(#b3)" stroke="#000" stroke-width="1.8"/>
<rect x="538.00" y="840.39" width="16.10" height="158.51" fill="#fff"/>
<rect x="538.00" y="840.39" width="16.10" height="158.51" fill="url(#b4)" stroke="#000" stroke-width="1.8"/>
<rect x="554.10" y="837.32" width="16.10" height="161.58" fill="#fff"/>
<rect x="554.10" y="837.32" width="16.10" height="161.58" fill="url(#b5)" stroke="#000" stroke-width="1.8"/>
<rect x="570.20" y="829.23" width="16.10" height="169.67" fill="#fff"/>
<rect x="570.20" y="829.23" width="16.10" height="169.67" fill="url(#b6)" stroke="#000" stroke-width="1.8"/>
<rect x="586.30" y="833.32" width="16.10" height="165.58" fill="#fff"/>
<rect x="586.30" y="833.32" width="16.10" height="165.58" fill="url(#b7)" stroke="#000" stroke-width="1.8"/>
<rect x="602.40" y="825.88" width="16.10" height="173.02" fill="#fff"/>
<rect x="602.40" y="825.88" width="16.10" height="173.02" fill="url(#b8)" stroke="#000" stroke-width="1.8"/>
<rect x="618.50" y="849.13" width="16.10" height="149.77" fill="#fff"/>
<rect x="618.50" y="849.13" width="16.10" height="149.77" fill="#000" stroke="#000" stroke-width="1.8"/>
<rect x="658.80" y="840.39" width="16.13" height="158.51" fill="#fff"/>
<rect x="658.80" y="840.39" width="16.13" height="158.51" fill="url(#b1)" stroke="#000" stroke-width="1.8"/>
<rect x="674.93" y="834.34" width="16.13" height="164.56" fill="#fff"/>
<rect x="674.93" y="834.34" width="16.13" height="164.56" fill="url(#b2)" stroke="#000" stroke-width="1.8"/>
<rect x="691.07" y="828.49" width="16.13" height="170.41" fill="#fff"/>
<rect x="691.07" y="828.49" width="16.13" height="170.41" fill="url(#b3)" stroke="#000" stroke-width="1.8"/>
<rect x="707.20" y="846.24" width="16.13" height="152.66" fill="#fff"/>
<rect x="707.20" y="846.24" width="16.13" height="152.66" fill="url(#b4)" stroke="#000" stroke-width="1.8"/>
<rect x="723.33" y="842.62" width="16.13" height="156.28" fill="#fff"/>
<rect x="723.33" y="842.62" width="16.13" height="156.28" fill="url(#b5)" stroke="#000" stroke-width="1.8"/>
<rect x="739.47" y="833.97" width="16.13" height="164.93" fill="#fff"/>
<rect x="739.47" y="833.97" width="16.13" height="164.93" fill="url(#b6)" stroke="#000" stroke-width="1.8"/>
<rect x="755.60" y="836.48" width="16.13" height="162.42" fill="#fff"/>
<rect x="755.60" y="836.48" width="16.13" height="162.42" fill="url(#b7)" stroke="#000" stroke-width="1.8"/>
<rect x="771.73" y="831.55" width="16.13" height="167.35" fill="#fff"/>
<rect x="771.73" y="831.55" width="16.13" height="167.35" fill="url(#b8)" stroke="#000" stroke-width="1.8"/>
<rect x="787.87" y="861.12" width="16.13" height="137.78" fill="#fff"/>
<rect x="787.87" y="861.12" width="16.13" height="137.78" fill="#000" stroke="#000" stroke-width="1.8"/>
<rect x="828.20" y="846.24" width="16.09" height="152.66" fill="#fff"/>
<rect x="828.20" y="846.24" width="16.09" height="152.66" fill="url(#b1)" stroke="#000" stroke-width="1.8"/>
<rect x="844.29" y="838.34" width="16.09" height="160.56" fill="#fff"/>
<rect x="844.29" y="838.34" width="16.09" height="160.56" fill="url(#b2)" stroke="#000" stroke-width="1.8"/>
<rect x="860.38" y="833.97" width="16.09" height="164.93" fill="#fff"/>
<rect x="860.38" y="833.97" width="16.09" height="164.93" fill="url(#b3)" stroke="#000" stroke-width="1.8"/>
<rect x="876.47" y="857.31" width="16.09" height="141.59" fill="#fff"/>
<rect x="876.47" y="857.31" width="16.09" height="141.59" fill="url(#b4)" stroke="#000" stroke-width="1.8"/>
<rect x="892.56" y="848.29" width="16.09" height="150.61" fill="#fff"/>
<rect x="892.56" y="848.29" width="16.09" height="150.61" fill="url(#b5)" stroke="#000" stroke-width="1.8"/>
<rect x="908.64" y="839.64" width="16.09" height="159.26" fill="#fff"/>
<rect x="908.64" y="839.64" width="16.09" height="159.26" fill="url(#b6)" stroke="#000" stroke-width="1.8"/>
<rect x="924.73" y="845.03" width="16.09" height="153.87" fill="#fff"/>
<rect x="924.73" y="845.03" width="16.09" height="153.87" fill="url(#b7)" stroke="#000" stroke-width="1.8"/>
<rect x="940.82" y="837.41" width="16.09" height="161.49" fill="#fff"/>
<rect x="940.82" y="837.41" width="16.09" height="161.49" fill="url(#b8)" stroke="#000" stroke-width="1.8"/>
<rect x="956.91" y="870.32" width="16.09" height="128.58" fill="#fff"/>
<rect x="956.91" y="870.32" width="16.09" height="128.58" fill="#000" stroke="#000" stroke-width="1.8"/>
<path d="M159.53 799.94V809.98M154.53 799.94H164.53M154.53 809.98H164.53" stroke="#000" stroke-width="1.8" fill="none"/>
<path d="M175.60 798.83V814.26M170.60 798.83H180.60M170.60 814.26H180.60" stroke="#000" stroke-width="1.8" fill="none"/>
<path d="M191.67 801.15V818.07M186.67 801.15H196.67M186.67 818.07H196.67" stroke="#000" stroke-width="1.8" fill="none"/>
<path d="M207.73 802.73V811.84M202.73 802.73H212.73M202.73 811.84H212.73" stroke="#000" stroke-width="1.8" fill="none"/>
<path d="M223.80 800.78V807.66M218.80 800.78H228.80M218.80 807.66H228.80" stroke="#000" stroke-width="1.8" fill="none"/>
<path d="M239.87 801.62V809.24M234.87 801.62H244.87M234.87 809.24H244.87" stroke="#000" stroke-width="1.8" fill="none"/>
<path d="M255.93 807.47V824.95M250.93 807.47H260.93M250.93 824.95H260.93" stroke="#000" stroke-width="1.8" fill="none"/>
<path d="M272.00 807.47V819.19M267.00 807.47H277.00M267.00 819.19H277.00" stroke="#000" stroke-width="1.8" fill="none"/>
<path d="M288.07 805.15V817.24M283.07 805.15H293.07M283.07 817.24H293.07" stroke="#000" stroke-width="1.8" fill="none"/>
<path d="M328.95 823.28V830.90M323.95 823.28H333.95M323.95 830.90H333.95" stroke="#000" stroke-width="1.8" fill="none"/>
<path d="M345.05 819.75V830.16M340.05 819.75H350.05M340.05 830.16H350.05" stroke="#000" stroke-width="1.8" fill="none"/>
<path d="M361.15 815.94V823.19M356.15 815.94H366.15M356.15 823.19H366.15" stroke="#000" stroke-width="1.8" fill="none"/>
<path d="M377.25 828.95V835.27M372.25 828.95H382.25M372.25 835.27H382.25" stroke="#000" stroke-width="1.8" fill="none"/>
<path d="M393.35 823.84V836.11M388.35 823.84H398.35M388.35 836.11H398.35" stroke="#000" stroke-width="1.8" fill="none"/>
<path d="M409.45 824.86V826.72M404.45 824.86H414.45M404.45 826.72H414.45" stroke="#000" stroke-width="1.8" fill="none"/>
<path d="M425.55 822.35V832.58M420.55 822.35H430.55M420.55 832.58H430.55" stroke="#000" stroke-width="1.8" fill="none"/>
<path d="M441.65 818.07V831.83M436.65 818.07H446.65M436.65 831.83H446.65" stroke="#000" stroke-width="1.8" fill="none"/>
<path d="M457.75 822.35V836.11M452.75 822.35H462.75M452.75 836.11H462.75" stroke="#000" stroke-width="1.8" fill="none"/>
<path d="M497.75 827.28V834.34M492.75 827.28H502.75M492.75 834.34H502.75" stroke="#000" stroke-width="1.8" fill="none"/>
<path d="M513.85 823.09V831.83M508.85 823.09H518.85M508.85 831.83H518.85" stroke="#000" stroke-width="1.8" fill="none"/>
<path d="M529.95 822.54V830.53M524.95 822.54H534.95M524.95 830.53H534.95" stroke="#000" stroke-width="1.8" fill="none"/>
<path d="M546.05 836.11V844.66M541.05 836.11H551.05M541.05 844.66H551.05" stroke="#000" stroke-width="1.8" fill="none"/>
<path d="M562.15 829.88V844.76M557.15 829.88H567.15M557.15 844.76H567.15" stroke="#000" stroke-width="1.8" fill="none"/>
<path d="M578.25 828.30V830.16M573.25 828.30H583.25M573.25 830.16H583.25" stroke="#000" stroke-width="1.8" fill="none"/>
<path d="M594.35 825.88V840.76M589.35 825.88H599.35M589.35 840.76H599.35" stroke="#000" stroke-width="1.8" fill="none"/>
<path d="M610.45 825.14V826.63M605.45 825.14H615.45M605.45 826.63H615.45" stroke="#000" stroke-width="1.8" fill="none"/>
<path d="M626.55 839.83V858.42M621.55 839.83H631.55M621.55 858.42H631.55" stroke="#000" stroke-width="1.8" fill="none"/>
<path d="M666.87 837.32V843.45M661.87 837.32H671.87M661.87 843.45H671.87" stroke="#000" stroke-width="1.8" fill="none"/>
<path d="M683.00 833.13V835.55M678.00 833.13H688.00M678.00 835.55H688.00" stroke="#000" stroke-width="1.8" fill="none"/>
<path d="M699.13 827.09V829.88M694.13 827.09H704.13M694.13 829.88H704.13" stroke="#000" stroke-width="1.8" fill="none"/>
<path d="M715.27 842.06V850.43M710.27 842.06H720.27M710.27 850.43H720.27" stroke="#000" stroke-width="1.8" fill="none"/>
<path d="M731.40 837.97V847.27M726.40 837.97H736.40M726.40 847.27H736.40" stroke="#000" stroke-width="1.8" fill="none"/>
<path d="M747.53 829.69V838.25M742.53 829.69H752.53M742.53 838.25H752.53" stroke="#000" stroke-width="1.8" fill="none"/>
<path d="M763.67 828.76V844.20M758.67 828.76H768.67M758.67 844.20H768.67" stroke="#000" stroke-width="1.8" fill="none"/>
<path d="M779.80 823.93V839.18M774.80 823.93H784.80M774.80 839.18H784.80" stroke="#000" stroke-width="1.8" fill="none"/>
<path d="M795.93 846.80V875.44M790.93 846.80H800.93M790.93 875.44H800.93" stroke="#000" stroke-width="1.8" fill="none"/>
<path d="M836.24 843.92V848.57M831.24 843.92H841.24M831.24 848.57H841.24" stroke="#000" stroke-width="1.8" fill="none"/>
<path d="M852.33 837.13V839.55M847.33 837.13H857.33M847.33 839.55H857.33" stroke="#000" stroke-width="1.8" fill="none"/>
<path d="M868.42 833.04V834.90M863.42 833.04H873.42M863.42 834.90H873.42" stroke="#000" stroke-width="1.8" fill="none"/>
<path d="M884.51 850.89V863.72M879.51 850.89H889.51M879.51 863.72H889.51" stroke="#000" stroke-width="1.8" fill="none"/>
<path d="M900.60 844.76V851.82M895.60 844.76H905.60M895.60 851.82H905.60" stroke="#000" stroke-width="1.8" fill="none"/>
<path d="M916.69 836.67V842.62M911.69 836.67H921.69M911.69 842.62H921.69" stroke="#000" stroke-width="1.8" fill="none"/>
<path d="M932.78 837.32V852.75M927.78 837.32H937.78M927.78 852.75H937.78" stroke="#000" stroke-width="1.8" fill="none"/>
<path d="M948.87 833.04V841.78M943.87 833.04H953.87M943.87 841.78H953.87" stroke="#000" stroke-width="1.8" fill="none"/>
<path d="M964.96 862.33V878.32M959.96 862.33H969.96M959.96 878.32H969.96" stroke="#000" stroke-width="1.8" fill="none"/>
<path d="M139.50 766.48V998.90H985.40" stroke="#868686" stroke-width="1.3" fill="none"/>
<text x="117.8" y="1005.8" text-anchor="end" font-family='"Liberation Sans", sans-serif' font-size="21" fill="#000">0</text>
<text x="117.8" y="959.3" text-anchor="end" font-family='"Liberation Sans", sans-serif' font-size="21" fill="#000">50</text>
<text x="117.8" y="912.8" text-anchor="end" font-family='"Liberation Sans", sans-serif' font-size="21" fill="#000">100</text>
<text x="117.8" y="866.3" text-anchor="end" font-family='"Liberation Sans", sans-serif' font-size="21" fill="#000">150</text>
<text x="117.8" y="819.9" text-anchor="end" font-family='"Liberation Sans", sans-serif' font-size="21" fill="#000">200</text>
<text x="117.8" y="773.4" text-anchor="end" font-family='"Liberation Sans", sans-serif' font-size="21" fill="#000">250</text>
<text x="223.5" y="1041.9" text-anchor="middle" font-family='"Liberation Sans", sans-serif' font-size="20.6" fill="#000">0</text>
<text x="392.7" y="1041.9" text-anchor="middle" font-family='"Liberation Sans", sans-serif' font-size="20.6" fill="#000">6</text>
<text x="561.9" y="1041.9" text-anchor="middle" font-family='"Liberation Sans", sans-serif' font-size="20.6" fill="#000">12</text>
<text x="731.0" y="1041.9" text-anchor="middle" font-family='"Liberation Sans", sans-serif' font-size="20.6" fill="#000">18</text>
<text x="900.2" y="1041.9" text-anchor="middle" font-family='"Liberation Sans", sans-serif' font-size="20.6" fill="#000">24</text>
<text x="462.3" y="1085.6" font-family='"Liberation Sans", sans-serif' font-weight="bold" font-size="19.5" fill="#000" textLength="199" lengthAdjust="spacingAndGlyphs">Storage period (days)</text>
<g transform="translate(56.1,1015.2) rotate(-90)"><text x="0" y="0" font-family='"Liberation Sans", sans-serif' font-weight="bold" font-size="19.5" fill="#000" textLength="229.7" lengthAdjust="spacingAndGlyphs">Iodine value ( g I<tspan font-size="12.5" dy="3.5">2</tspan><tspan dy="-3.5"> / 100g)</tspan></text></g>
<rect x="215.3" y="619.4" width="594.6" height="79.8" fill="#fff" stroke="#000" stroke-width="1.4"/>
<rect x="255.7" y="626.0" width="12.2" height="12.3" rx="1" fill="#fff" stroke="#000" stroke-width="1.7"/><rect x="260.9" y="628.5" width="1.8" height="1.9" fill="#000"/><rect x="260.9" y="633.9" width="1.8" height="1.9" fill="#000"/>
<text x="273.8" y="638.7" font-family='"Liberation Sans", sans-serif' font-size="19.3" fill="#000" textLength="201.0" lengthAdjust="spacingAndGlyphs">crude extract 100ppm</text>
<rect x="552.8" y="626.0" width="12.2" height="12.3" rx="1" fill="#fff" stroke="#000" stroke-width="1.7"/><path d="M554.3 629.0L561.0 636.8M557.8 627.5L563.5 633.3" stroke="#000" stroke-width="1.3" stroke-dasharray="1.4 1.3"/>
<text x="571.2" y="638.7" font-family='"Liberation Sans", sans-serif' font-size="19.3" fill="#000" textLength="201.3" lengthAdjust="spacingAndGlyphs">crude extract 200ppm</text>
<rect x="255.7" y="653.3" width="12.2" height="12.3" rx="1" fill="#000" stroke="#000" stroke-width="1.7"/><rect x="257.2" y="655.1" width="2.4" height="8.7" fill="#fff"/><rect x="260.6" y="655.1" width="2.4" height="8.7" fill="#fff"/><rect x="264.0" y="655.1" width="2.4" height="8.7" fill="#fff"/>
<text x="273.8" y="665.1" font-family='"Liberation Sans", sans-serif' font-size="19.3" fill="#000" textLength="206.0" lengthAdjust="spacingAndGlyphs">crude extract 300 ppm</text>
<rect x="552.8" y="653.3" width="12.2" height="12.3" rx="1" fill="#000" stroke="#000" stroke-width="1.7"/><rect x="554.1" y="655.5" width="9.6" height="1.9" fill="#fff"/><rect x="554.1" y="658.6" width="9.6" height="1.9" fill="#fff"/><rect x="554.1" y="661.8" width="9.6" height="1.9" fill="#fff"/>
<text x="571.2" y="665.1" font-family='"Liberation Sans", sans-serif' font-size="19.3" fill="#000" textLength="116.9" lengthAdjust="spacingAndGlyphs">SF II 100ppm</text>
<rect x="255.7" y="680.4" width="12.2" height="12.3" rx="1" fill="#fff" stroke="#000" stroke-width="1.7"/><path d="M258.7 691.2L266.4 683.4M262.7 681.9L266.4 685.4" stroke="#000" stroke-width="1.3" stroke-dasharray="1.4 1.3"/>
<text x="279.1" y="692.6" font-family='"Liberation Sans", sans-serif' font-size="19.3" fill="#000" textLength="115.7" lengthAdjust="spacingAndGlyphs">SF II 200ppm</text>
<rect x="552.8" y="680.4" width="12.2" height="12.3" rx="1" fill="#fff" stroke="#000" stroke-width="1.7"/><path d="M553.8 691.7L564.0 681.4L564.0 691.7Z" fill="#000"/><rect x="561.0" y="688.7" width="2" height="2" fill="#fff"/>
<text x="575.9" y="692.6" font-family='"Liberation Sans", sans-serif' font-size="19.3" fill="#000" textLength="121.6" lengthAdjust="spacingAndGlyphs">SF II 300 ppm</text>
</svg>
</body></html>
